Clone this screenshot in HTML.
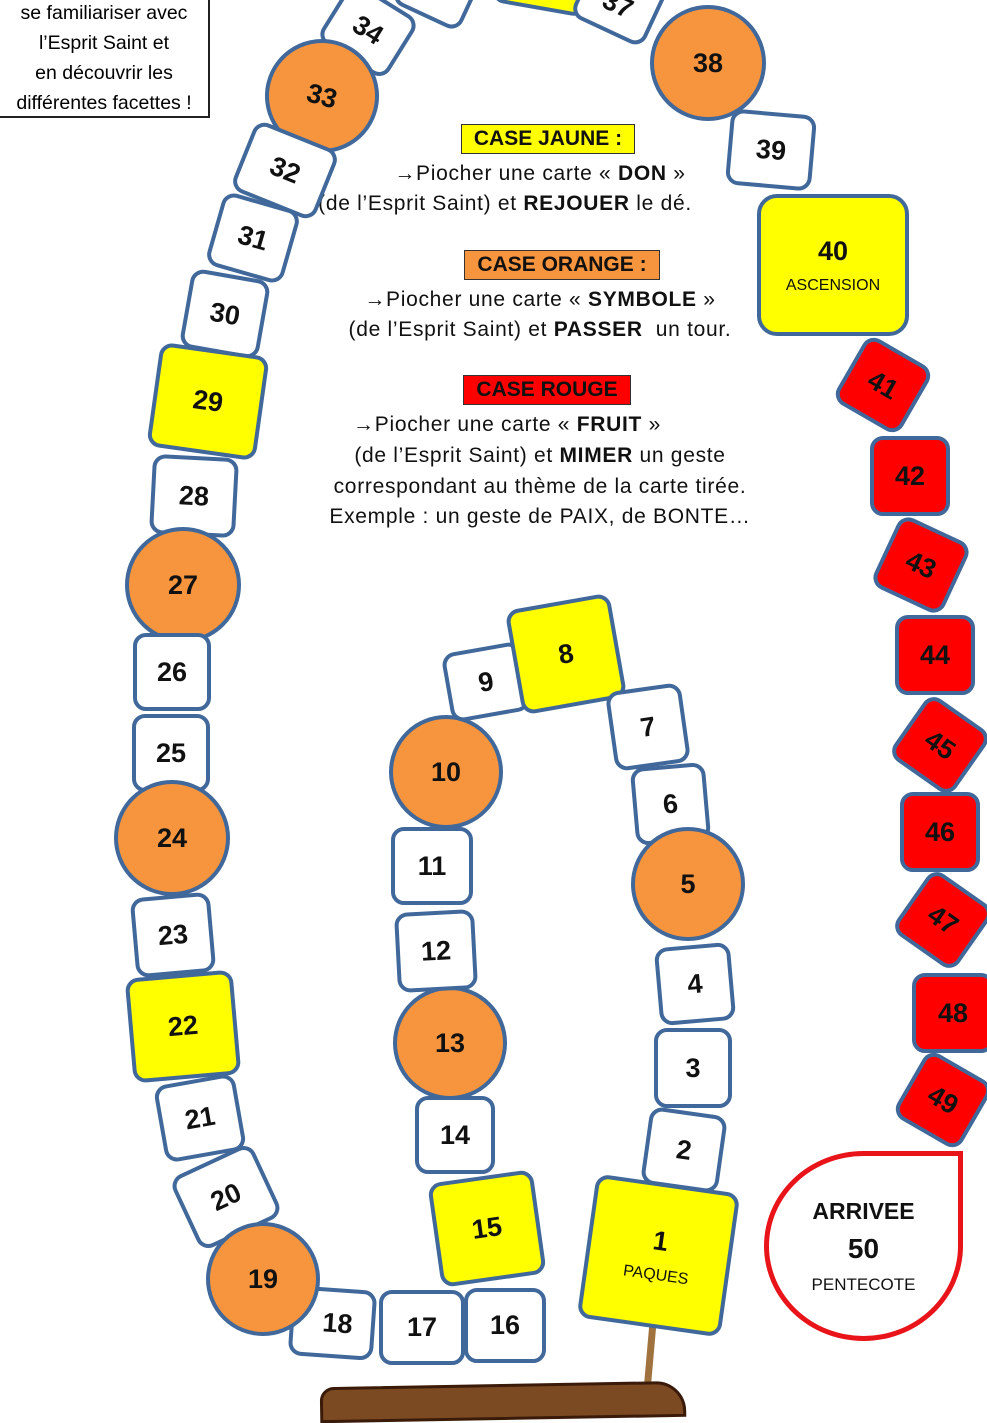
<!DOCTYPE html>
<html><head><meta charset="utf-8">
<style>
body{margin:0;width:987px;height:1400px;overflow:hidden;background:#fff;position:relative;font-family:"Liberation Sans",sans-serif}
.t{position:absolute;box-sizing:border-box;border:4px solid #41689a;border-radius:13px;background:#fff;display:flex;align-items:center;justify-content:center;flex-direction:column;font-weight:bold;font-size:27px;color:#111}
.c{border-radius:50%;background:#f7953e}
.y{background:#ffff00}
.r{background:#ff0000}
.s{font-size:16px;font-weight:normal;margin-top:10px}
.tx{position:absolute;width:600px;text-align:center;font-size:21px;letter-spacing:0.7px;color:#111;white-space:nowrap}
.lab{display:inline-block;border:1px solid #333;font-weight:bold;padding:2px 12px;font-size:21px;letter-spacing:0}
</style></head><body>

<div style="position:absolute;left:-2px;top:-4px;width:212px;height:122px;border:2px solid #222;box-sizing:border-box;font-size:19.5px;text-align:center;line-height:30px;white-space:nowrap;overflow:hidden">se familiariser avec<br>l’Esprit Saint et<br>en découvrir les<br>différentes facettes !</div>

<!-- legend -->
<div class="tx" style="top:124px;left:248px"><span class="lab" style="background:#ffff00">CASE JAUNE :</span></div>
<div class="tx" style="top:162px;left:240px">→Piocher une carte « <b>DON</b> »</div>
<div class="tx" style="top:192px;left:205px">(de l’Esprit Saint) et <b>REJOUER</b> le dé.</div>
<div class="tx" style="top:250px;left:262px"><span class="lab" style="background:#f7953e">CASE ORANGE :</span></div>
<div class="tx" style="top:288px;left:240px">→Piocher une carte « <b>SYMBOLE</b> »</div>
<div class="tx" style="top:318px;left:240px">(de l’Esprit Saint) et <b>PASSER</b>&nbsp; un tour.</div>
<div class="tx" style="top:375px;left:247px"><span class="lab" style="background:#ff0000">CASE ROUGE</span></div>
<div class="tx" style="top:413px;left:207px">→Piocher une carte « <b>FRUIT</b> »</div>
<div class="tx" style="top:444px;left:240px">(de l’Esprit Saint) et <b>MIMER</b> un geste</div>
<div class="tx" style="top:475px;left:240px">correspondant au thème de la carte tirée.</div>
<div class="tx" style="top:505px;left:240px">Exemple : un geste de PAIX, de BONTE…</div>

<!-- top tiles -->
<div class="t" style="left:400px;top:-45px;width:75px;height:65px;transform:rotate(25deg)"></div>
<div class="t y" style="left:495px;top:-50px;width:95px;height:60px;transform:rotate(10deg)"></div>
<div class="t" style="left:580px;top:-35px;width:80px;height:70px;transform:rotate(25deg)"><span style="margin-top:10px">37</span></div>
<div class="t" style="left:328px;top:-5px;width:80px;height:70px;transform:rotate(32deg)">34</div>
<div class="t c" style="left:265px;top:39px;width:114px;height:114px;transform:rotate(15deg)">33</div>
<div class="t" style="left:240px;top:133px;width:90px;height:75px;transform:rotate(22deg)">32</div>
<div class="t" style="left:213px;top:200px;width:80px;height:76px;transform:rotate(16deg)">31</div>
<div class="t" style="left:185px;top:274px;width:80px;height:80px;transform:rotate(10deg)">30</div>
<div class="t y" style="left:153px;top:349px;width:110px;height:105px;transform:rotate(8deg)">29</div>
<div class="t" style="left:151px;top:456px;width:86px;height:80px;transform:rotate(3deg)">28</div>
<div class="t c" style="left:125px;top:527px;width:116px;height:116px">27</div>
<div class="t" style="left:133px;top:633px;width:78px;height:78px">26</div>
<div class="t" style="left:132px;top:714px;width:78px;height:78px">25</div>
<div class="t c" style="left:114px;top:780px;width:116px;height:116px">24</div>
<div class="t" style="left:133px;top:895px;width:80px;height:80px;transform:rotate(-5deg)">23</div>
<div class="t y" style="left:129px;top:974px;width:108px;height:105px;transform:rotate(-5deg)">22</div>
<div class="t" style="left:159px;top:1079px;width:82px;height:78px;transform:rotate(-10deg)">21</div>
<div class="t" style="left:181px;top:1157px;width:90px;height:80px;transform:rotate(-25deg)">20</div>
<div class="t" style="left:290px;top:1288px;width:85px;height:70px;transform:rotate(4deg)"><span style="margin-left:10px">18</span></div>
<div class="t c" style="left:206px;top:1222px;width:114px;height:114px">19</div>
<div class="t" style="left:379px;top:1290px;width:86px;height:75px">17</div>
<div class="t" style="left:464px;top:1288px;width:82px;height:75px">16</div>
<div class="t y" style="left:434px;top:1176px;width:106px;height:105px;transform:rotate(-8deg)">15</div>
<div class="t" style="left:415px;top:1096px;width:80px;height:78px">14</div>
<div class="t c" style="left:393px;top:986px;width:114px;height:114px">13</div>
<div class="t" style="left:396px;top:911px;width:80px;height:80px;transform:rotate(-3deg)">12</div>
<div class="t" style="left:391px;top:827px;width:82px;height:78px">11</div>
<div class="t c" style="left:389px;top:715px;width:114px;height:114px">10</div>
<div class="t" style="left:446px;top:647px;width:80px;height:70px;transform:rotate(-10deg)">9</div>
<div class="t y" style="left:513px;top:601px;width:106px;height:106px;transform:rotate(-10deg)">8</div>
<div class="t" style="left:610px;top:687px;width:76px;height:80px;transform:rotate(-8deg)">7</div>
<div class="t" style="left:633px;top:765px;width:75px;height:78px;transform:rotate(-5deg)">6</div>
<div class="t c" style="left:631px;top:827px;width:114px;height:114px">5</div>
<div class="t" style="left:657px;top:945px;width:76px;height:78px;transform:rotate(-5deg)">4</div>
<div class="t" style="left:654px;top:1028px;width:78px;height:80px">3</div>
<div class="t" style="left:645px;top:1111px;width:78px;height:78px;transform:rotate(8deg)">2</div>
<div style="position:absolute;left:646px;top:1320px;width:7px;height:85px;background:#a0733e;transform:rotate(5deg)"></div>
<div class="t y" style="left:586px;top:1183px;width:145px;height:145px;transform:rotate(8deg)">1<span class="s">PAQUES</span></div>
<div style="position:absolute;left:320px;top:1384px;width:360px;height:30px;background:#7b4a22;border:3px solid #3a1a08;border-radius:14px 30px 0 0;transform:rotate(-1deg)"></div>

<!-- right side -->
<div class="t c" style="left:650px;top:5px;width:116px;height:116px">38</div>
<div class="t" style="left:728px;top:112px;width:86px;height:76px;transform:rotate(5deg)">39</div>
<div class="t y" style="left:757px;top:194px;width:152px;height:142px;border-radius:20px">40<span class="s">ASCENSION</span></div>
<div class="t r" style="left:845px;top:347px;width:76px;height:76px;transform:rotate(30deg)">41</div>
<div class="t r" style="left:870px;top:436px;width:80px;height:80px">42</div>
<div class="t r" style="left:882px;top:526px;width:78px;height:78px;transform:rotate(25deg)">43</div>
<div class="t r" style="left:895px;top:615px;width:80px;height:80px">44</div>
<div class="t r" style="left:902px;top:707px;width:76px;height:76px;transform:rotate(35deg)">45</div>
<div class="t r" style="left:900px;top:792px;width:80px;height:80px">46</div>
<div class="t r" style="left:905px;top:882px;width:76px;height:76px;transform:rotate(35deg)">47</div>
<div class="t r" style="left:912px;top:973px;width:82px;height:80px">48</div>
<div class="t r" style="left:905px;top:1062px;width:76px;height:76px;transform:rotate(30deg)">49</div>
<div style="position:absolute;left:764px;top:1151px;width:199px;height:190px;box-sizing:border-box;border:5px solid #e8141a;border-radius:50% 0 50% 50%;text-align:center;font-weight:bold;color:#111">
<div style="font-size:23px;margin-top:42px">ARRIVEE</div>
<div style="font-size:28px;margin-top:8px">50</div>
<div style="font-size:17px;font-weight:normal;margin-top:10px">PENTECOTE</div>
</div>
</body></html>
